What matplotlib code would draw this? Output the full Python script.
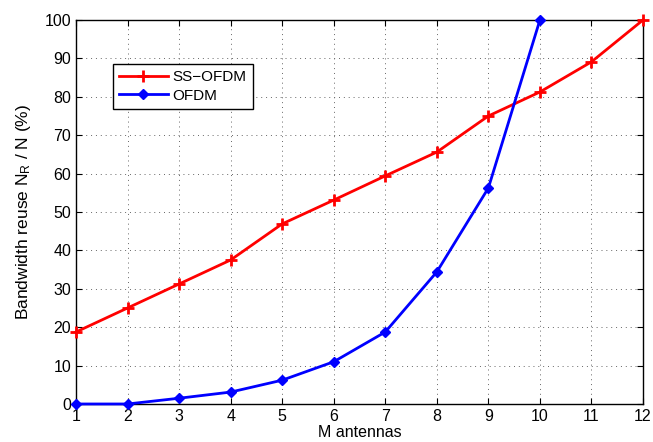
import matplotlib
matplotlib.use("Agg")
import matplotlib.pyplot as plt

plt.rcParams.update({
    "font.family": ["Liberation Sans", "DejaVu Sans"],
    "mathtext.fontset": "custom",
    "mathtext.rm": "Liberation Sans",
    "mathtext.it": "Liberation Sans",
    "font.size": 11,
})

antennas = [1, 2, 3, 4, 5, 6, 7, 8, 9, 10, 11, 12]
ss_ofdm = [18.75, 25.0, 31.25, 37.5, 46.9, 53.1, 59.4, 65.6, 75.0, 81.25, 89.1, 100.0]
ofdm_m = [1, 2, 3, 4, 5, 6, 7, 8, 9, 10]
ofdm = [0.0, 0.0, 1.5, 3.1, 6.2, 11.0, 18.75, 34.4, 56.25, 100.0]
x_ticks = list(range(1, 13))
y_ticks = list(range(0, 101, 10))

fig = plt.figure(figsize=(6.53, 4.42), dpi=100)
ax = fig.add_axes([0.1164, 0.086, 0.8683, 0.8688])

ax.plot(antennas, ss_ofdm, color="red", lw=2, marker="+", ms=9, mew=2,
        label="SS\u2212OFDM", clip_on=False, zorder=3)
ax.plot(ofdm_m, ofdm, color="blue", lw=2, marker="D", ms=5,
        label="OFDM", clip_on=False, zorder=3)

ax.set_xlim(1, 12)
ax.set_ylim(0, 100)
ax.set_xticks(x_ticks)
ax.set_yticks(y_ticks)
ax.tick_params(direction="in", top=True, right=True, length=4, labelsize=11.5)
ax.grid(True, linestyle=(0, (1, 4)), color="#666666", linewidth=0.7)
for s in ax.spines.values():
    s.set_linewidth(1.0)

ax.set_xlabel("M antennas", fontsize=11.5, labelpad=1)
ax.set_ylabel("Bandwidth reuse N$_\\mathregular{R}$ / N (%)", fontsize=12.5, labelpad=8)

leg = ax.legend(loc="upper left", bbox_to_anchor=(0.065, 0.885), fancybox=False,
                edgecolor="black", framealpha=1, fontsize=11, borderpad=0.4,
                handlelength=3.2, labelspacing=0.3, handletextpad=0.3,
                borderaxespad=0)
leg.get_frame().set_linewidth(1.0)

fig.savefig("out.png", dpi=100)
